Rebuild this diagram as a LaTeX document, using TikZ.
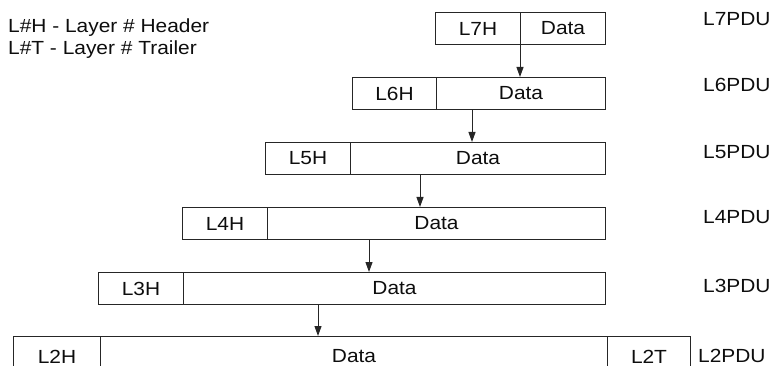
\documentclass[tikz,border=0pt]{standalone}
\usepackage{fontspec}
\setmainfont{Liberation Sans}[FakeStretch=1.1]
\usetikzlibrary{arrows.meta}
\tikzset{
  cell/.style={draw=black!85, line width=1pt, inner sep=0pt, anchor=north west,
    minimum height=32pt, text=black!95, font=\fontsize{19}{22}\selectfont},
  lbl/.style={inner sep=0pt, anchor=west, text=black!95, font=\fontsize{19}{22}\selectfont},
  arr/.style={draw=black!85, line width=1pt, -{Triangle[length=10pt,width=7pt]}}
}
\begin{document}
\begin{tikzpicture}[x=1pt,y=-1pt]
\useasboundingbox (0,0) rectangle (771,366);
% legend
\node[lbl, anchor=base west] (leg1) at (8,33) {L\#H - Layer \# Header};
\node[lbl, anchor=base west] (leg2) at (8,55) {L\#T - Layer \# Trailer};
% L7
\node[cell, minimum width=85pt] (h7) at (435,12) {L7H};
\node[cell, minimum width=85pt] (d7) at (520,12) {Data};
% L6
\node[cell, minimum width=84pt] (h6) at (352,77) {L6H};
\node[cell, minimum width=169pt] (d6) at (436,77) {Data};
% L5
\node[cell, minimum width=85pt] (h5) at (265,142) {L5H};
\node[cell, minimum width=255pt] (d5) at (350,142) {Data};
% L4
\node[cell, minimum width=85pt] (h4) at (182,207) {L4H};
\node[cell, minimum width=338pt] (d4) at (267,207) {Data};
% L3
\node[cell, minimum width=85pt] (h3) at (98,272) {L3H};
\node[cell, minimum width=422pt] (d3) at (183,272) {Data};
% L2
\node[cell, minimum width=87pt, minimum height=40pt] (h2) at (13,336) {L2H};
\node[cell, minimum width=507pt, minimum height=40pt] (d2) at (100,336) {Data};
\node[cell, minimum width=83pt, minimum height=40pt] (t2) at (607,336) {L2T};
% PDU labels
\node[lbl] (p7) at (703,19) {L7PDU};
\node[lbl] (p6) at (703,85) {L6PDU};
\node[lbl] (p5) at (703,152) {L5PDU};
\node[lbl] (p4) at (703,217) {L4PDU};
\node[lbl] (p3) at (703,286) {L3PDU};
\node[lbl] (p2) at (698,356) {L2PDU};
% arrow columns
\coordinate (x7) at (520,0);
\coordinate (x6) at (472,0);
\coordinate (x5) at (420,0);
\coordinate (x4) at (369,0);
\coordinate (x3) at (318,0);
\draw[arr] (d7.south -| x7) -- (d6.north -| x7);
\draw[arr] (d6.south -| x6) -- (d5.north -| x6);
\draw[arr] (d5.south -| x5) -- (d4.north -| x5);
\draw[arr] (d4.south -| x4) -- (d3.north -| x4);
\draw[arr] (d3.south -| x3) -- (d2.north -| x3);
\end{tikzpicture}
\end{document}
